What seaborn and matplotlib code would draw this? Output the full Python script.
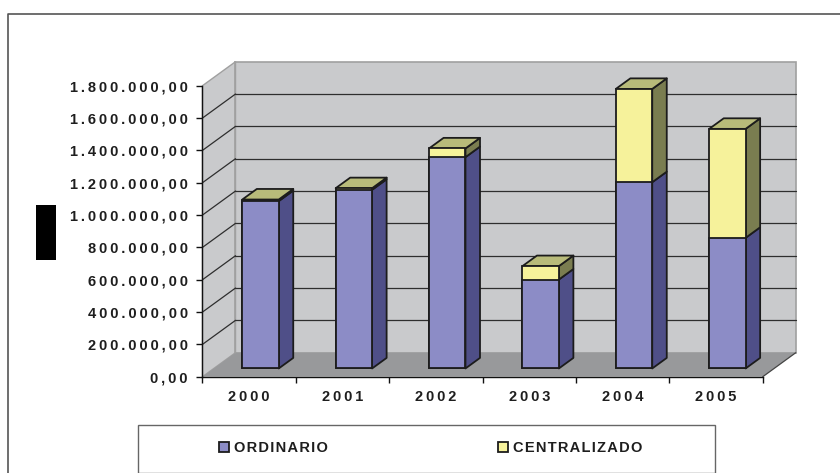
import matplotlib
matplotlib.use("Agg")
import matplotlib.pyplot as plt
from matplotlib.patches import Polygon, Rectangle, Patch
from matplotlib.lines import Line2D
import seaborn as sns
import pandas as pd

# ---------------- data ----------------
years = ["2000", "2001", "2002", "2003", "2004", "2005"]
ordinario = [1035000, 1105000, 1307000, 550000, 1152000, 808000]
centralizado = [10000, 10000, 54000, 83000, 577000, 674000]
series_names = ["ORDINARIO", "CENTRALIZADO"]
ytick_values = [0, 200000, 400000, 600000, 800000, 1000000, 1200000, 1400000, 1600000, 1800000]
ytick_labels = ["0,00", "200.000,00", "400.000,00", "600.000,00", "800.000,00",
                "1.000.000,00", "1.200.000,00", "1.400.000,00", "1.600.000,00", "1.800.000,00"]

# ---------------- style ----------------
sns.set_theme(style="white")
plt.rcParams["font.family"] = ["Liberation Sans", "DejaVu Sans"]

W, Hpx, DPI = 840, 473, 100
fig = plt.figure(figsize=(W / DPI, Hpx / DPI), dpi=DPI)
ax = fig.add_axes([0, 0, 1, 1])
ax.set_facecolor("none")
fig.patch.set_facecolor("white")

c_purple, c_purple_side = "#8C8CC6", "#4F4F88"
c_yellow, c_yellow_side, c_top = "#F6F29B", "#7A7D50", "#B8BB7A"
c_wall, c_floor = "#C9CACC", "#98999B"
edge = "#1C1C1C"

# geometry (pixel scales of the reference)
cat_px = 93.38           # pixels per category
val_px = 161.67 / 1e6    # pixels per unit value
D = 33 / cat_px          # depth offset in x (categories)
H = 24 / val_px          # depth offset in y (values)
s = 0.343                # depth of bar front face
d = 0.44                 # bar depth fraction
bw = 0.39                # bar width

x0_px = 202.5 + 0.5 * cat_px + s * 33
y0_px = 376.7 - s * 24

n = len(years)
xl_f, xr_f = -0.5 - s * D, n - 0.5 - s * D
xl_b, xr_b = xl_f + D, xr_f + D
vmax = ytick_values[-1]
yf = lambda v: v - s * H
yb = lambda v: v - s * H + H

# walls
ax.add_patch(Polygon([(xl_b, yb(0)), (xr_b, yb(0)), (xr_b, yb(vmax)), (xl_b, yb(vmax))],
                     closed=True, facecolor=c_wall, edgecolor="#A0A0A0", lw=1.2, zorder=0.3))
ax.add_patch(Polygon([(xl_f, yf(0)), (xl_b, yb(0)), (xl_b, yb(vmax)), (xl_f, yf(vmax))],
                     closed=True, facecolor=c_wall, edgecolor="#A0A0A0", lw=1.0, zorder=0.3))
ax.add_patch(Polygon([(xl_f, yf(0)), (xr_f, yf(0)), (xr_b, yb(0)), (xl_b, yb(0))],
                     closed=True, facecolor=c_floor, edgecolor="none", zorder=0.35))
ax.plot([xr_f, xr_b], [yf(0), yb(0)], color="#444444", lw=0.9, zorder=0.4)
ax.plot([xl_b, xl_b], [yb(0), yb(vmax)], color="#A0A0A0", lw=1.2, zorder=0.45)

# gridlines
for v in ytick_values[1:-1]:
    ax.plot([xl_b, xr_b], [yb(v), yb(v)], color="#2E2E2E", lw=0.9, zorder=0.5)
    ax.plot([xl_f, xl_b], [yf(v), yb(v)], color="#2E2E2E", lw=0.9, zorder=0.5)

# front faces via seaborn (stacked)
df = pd.DataFrame({"year": years, "ordinario": ordinario,
                   "total": [a + b for a, b in zip(ordinario, centralizado)]})
sns.barplot(data=df, x="year", y="total", color=c_yellow, saturation=1, width=bw,
            edgecolor=edge, linewidth=1.3, ax=ax, zorder=2)
sns.barplot(data=df, x="year", y="ordinario", color=c_purple, saturation=1, width=bw,
            edgecolor=edge, linewidth=1.3, ax=ax, zorder=2.1)

# side and top faces
dx, dy = d * D, d * H
for i in range(n):
    xl, xr = i - bw / 2, i + bw / 2
    segs = [(0, ordinario[i], c_purple_side),
            (ordinario[i], ordinario[i] + centralizado[i], c_yellow_side)]
    for b, t, col in segs:
        ax.add_patch(Polygon([(xr, b), (xr + dx, b + dy), (xr + dx, t + dy), (xr, t)],
                             closed=True, facecolor=col, edgecolor=edge, lw=1.3,
                             joinstyle="round", zorder=1.9))
    T = ordinario[i] + centralizado[i]
    ax.add_patch(Polygon([(xl, T), (xr, T), (xr + dx, T + dy), (xl + dx, T + dy)],
                         closed=True, facecolor=c_top, edgecolor=edge, lw=1.3,
                         joinstyle="round", zorder=1.9))

ax.set_xlim(-x0_px / cat_px, (W - x0_px) / cat_px)
ax.set_ylim(-(Hpx - y0_px) / val_px, y0_px / val_px)

# axes / spines
spaced = lambda t, sep="\u2009": sep.join(t)
for sp in ["top", "right"]:
    ax.spines[sp].set_visible(False)
ax.spines["left"].set_position(("data", xl_f))
ax.spines["left"].set_bounds(yf(0), yf(vmax))
ax.spines["bottom"].set_position(("data", yf(0)))
ax.spines["bottom"].set_bounds(xl_f, xr_f)
for sp in ["left", "bottom"]:
    ax.spines[sp].set_color("#111111")
    ax.spines[sp].set_linewidth(1.0)
    ax.spines[sp].set_visible(True)

ax.set_yticks([yf(v) for v in ytick_values])
ax.set_yticklabels([spaced(t) for t in ytick_labels])
ax.tick_params(axis="y", direction="out", length=4.3, width=1.0, color="#111111",
               pad=6.3, labelsize=10.5, labelcolor="#1E1E1E", left=True)
for lab in ax.get_yticklabels():
    lab.set_fontweight("bold")

ax.set_xticks([b - 0.5 - s * D for b in range(n + 1)])
ax.set_xticklabels([])
ax.set_xticks([i - s * D for i in range(n)], minor=True)
ax.set_xticklabels([spaced(y) for y in years], minor=True)
ax.tick_params(axis="x", which="major", direction="out", length=4.3, width=1.0,
               color="#111111", bottom=True)
ax.tick_params(axis="x", which="minor", length=0, pad=9.5, labelsize=10.5,
               labelcolor="#1E1E1E", bottom=True)
for lab in ax.get_xticklabels(minor=True):
    lab.set_fontweight("bold")
ax.set_xlabel("")
ax.set_ylabel("")
ax.grid(False)

# black box at left
fig.add_artist(Rectangle((36 / W, 1 - 260 / Hpx), 20 / W, 55 / Hpx,
                         transform=fig.transFigure, facecolor="black", edgecolor="none"))
# outer frame
fig.add_artist(Line2D([7.7 / W, 7.7 / W, 1.0], [0.0, 1 - 14.3 / Hpx, 1 - 14.3 / Hpx],
                      transform=fig.transFigure, color="#555555", lw=1.2))
# legend frame
fig.add_artist(Rectangle((138.3 / W, 1 - 472.5 / Hpx), (715 - 138.3) / W, (472.5 - 425) / Hpx,
                         transform=fig.transFigure, facecolor="white", edgecolor="#666666",
                         lw=1.0, zorder=3))
handles = [Patch(facecolor=c_purple, edgecolor=edge, lw=1.3),
           Patch(facecolor=c_yellow, edgecolor=edge, lw=1.3)]
leg = fig.legend(handles, [spaced(t, "\u200a") for t in series_names], ncol=2, frameon=False,
                 loc="center left", bbox_to_anchor=(219.3 / W, 1 - 447.8 / Hpx),
                 borderpad=0, borderaxespad=0, handlelength=0.68, handleheight=0.68,
                 handletextpad=0.34, columnspacing=11.66,
                 prop={"size": 10.5, "weight": "bold"})
leg.set_zorder(4)
for t in leg.get_texts():
    t.set_color("#1E1E1E")

fig.savefig("out.png", dpi=DPI)
